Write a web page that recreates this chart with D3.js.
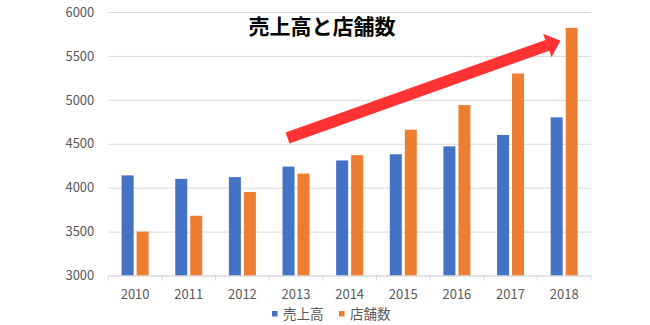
<!DOCTYPE html>
<html>
<head>
<meta charset="utf-8">
<script src="https://cdn.jsdelivr.net/npm/d3@7/dist/d3.min.js"></script>
<style>
  html, body { margin: 0; padding: 0; background: #fff; }
  svg { display: block; }
  text { font-family: "Noto Sans CJK JP", "Noto Sans", sans-serif; }
</style>
</head>
<body>
<svg id="chart" width="650" height="325"></svg>
<script>
// Yearly figures: sales (売上高) and store count (店舗数)
const years = ["2010", "2011", "2012", "2013", "2014", "2015", "2016", "2017", "2018"];
const seriesNames = ["売上高", "店舗数"];
const sales  = [4140, 4100, 4120, 4240, 4310, 4380, 4470, 4600, 4800];
const stores = [3500, 3680, 3950, 4160, 4370, 4660, 4940, 5300, 5820];
const yTicks = [3000, 3500, 4000, 4500, 5000, 5500, 6000];
const colors = ["#4472C4", "#ED7D31"];
const titleText = "売上高と店舗数";

const rows = years.map((yr, i) => ({ year: yr, values: [sales[i], stores[i]] }));

const svg = d3.select("#chart");
const plotLeft = 108.3, plotRight = 591, plotTop = 12, plotBottom = 275.5;

const x0 = d3.scaleBand().domain(years).range([plotLeft, plotRight]).padding(0);
const bw = x0.bandwidth();
const x1 = d3.scaleBand().domain(seriesNames)
  .range([bw / 2 - 13.5, bw / 2 + 13.5]).paddingInner(0.2);
const y = d3.scaleLinear().domain([3000, 6000]).range([plotBottom, plotTop]);

// Horizontal gridlines with value labels
const yAxis = d3.axisLeft(y).tickValues(yTicks).tickSize(-(plotRight - plotLeft)).tickPadding(14).tickFormat(d3.format("d"));
const gy = svg.append("g").attr("transform", `translate(${plotLeft},0)`).call(yAxis);
gy.select(".domain").remove();
gy.selectAll(".tick line").attr("stroke", "#d9d9d9").attr("stroke-width", 1);
gy.selectAll(".tick text").attr("fill", "#595959").attr("font-size", 13);

// Bars
const groups = svg.append("g").selectAll("g").data(rows).join("g")
  .attr("transform", d => `translate(${x0(d.year)},0)`);
groups.selectAll("rect").data(d => d.values.map((v, k) => ({ key: seriesNames[k], v, k })))
  .join("rect")
  .attr("x", d => x1(d.key))
  .attr("width", x1.bandwidth())
  .attr("y", d => y(d.v))
  .attr("height", d => y(3000) - y(d.v))
  .attr("fill", d => colors[d.k]);

// Category axis
const xAxis = d3.axisBottom(x0).tickSize(0).tickPadding(14);
const gx = svg.append("g").attr("transform", `translate(0,${plotBottom})`).call(xAxis);
gx.select(".domain").attr("stroke", "#d9d9d9");
gx.selectAll(".tick text").attr("fill", "#595959").attr("font-size", 13);
// Tick marks between categories
const boundaries = years.map(yr => x0(yr)).concat([plotRight]);
gx.selectAll("line.sep").data(boundaries).join("line")
  .attr("class", "sep")
  .attr("x1", d => d).attr("x2", d => d)
  .attr("y1", 0).attr("y2", 5)
  .attr("stroke", "#d9d9d9");

// Title
svg.append("text")
  .attr("x", 322).attr("y", 34)
  .attr("text-anchor", "middle")
  .attr("font-size", 21)
  .attr("font-weight", 700)
  .attr("fill", "#000")
  .text(titleText);

// Red trend arrow
(function drawArrow() {
  const tail = [287.5, 138], tip = [560.5, 40.7];
  const dx = tip[0] - tail[0], dy = tip[1] - tail[1];
  const len = Math.hypot(dx, dy);
  const ux = dx / len, uy = dy / len, nx = -uy, ny = ux;
  const half = 5.8, headLen = 14, headHalf = 12.5;
  const bx = tip[0] - ux * headLen, by = tip[1] - uy * headLen;
  const pts = [
    [tail[0] + nx * half, tail[1] + ny * half],
    [bx + nx * half, by + ny * half],
    [bx + nx * headHalf, by + ny * headHalf],
    tip,
    [bx - nx * headHalf, by - ny * headHalf],
    [bx - nx * half, by - ny * half],
    [tail[0] - nx * half, tail[1] - ny * half]
  ];
  svg.append("path")
    .attr("d", d3.line()(pts) + "Z")
    .attr("fill", "#ff3333");
})();

// Legend
const legend = svg.append("g").attr("transform", "translate(272,0)");
const legendX = [0, 67];
seriesNames.forEach((name, k) => {
  const g = legend.append("g").attr("transform", `translate(${legendX[k]},0)`);
  g.append("rect").attr("x", 0).attr("y", 311).attr("width", 5.5).attr("height", 5.5).attr("fill", colors[k]);
  g.append("text").attr("x", 11).attr("y", 318.5)
    .attr("font-size", 13.5).attr("fill", "#595959").text(name);
});
</script>
</body>
</html>
